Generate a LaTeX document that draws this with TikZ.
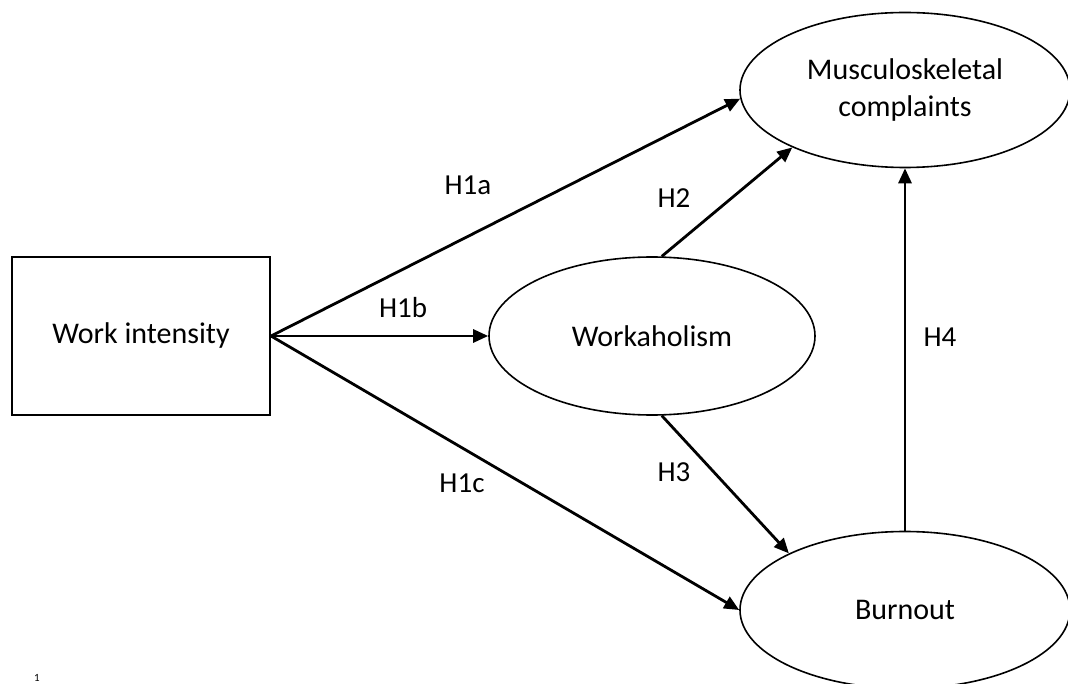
\documentclass[tikz,border=0pt]{standalone}
\usepackage{fontspec}
\setmainfont{Carlito}
\usetikzlibrary{shapes.geometric,arrows.meta}
\begin{document}
\begin{tikzpicture}[x=1pt,y=-1pt,
  lat/.style={draw, ellipse, line width=1.6pt, minimum width=330pt, minimum height=155pt,
    inner sep=0pt, align=center, font=\fontsize{30}{37}\selectfont},
  obs/.style={draw, rectangle, line width=2pt, minimum width=258pt, minimum height=158pt,
    inner sep=0pt, font=\fontsize{30}{37}\selectfont},
  hpath/.style={line width=2.8pt, -{Triangle[length=15pt,width=13pt]}},
  lbl/.style={font=\fontsize{29}{34}\selectfont, inner sep=0pt}]
\useasboundingbox (0,0) rectangle (1068,684);
\clip (0,0) rectangle (1068,684);
\node[obs] (wi) at (141,336) {Work intensity};
\node[lat] (mc) at (905,90) {Musculoskeletal\\complaints};
\node[lat, minimum width=326pt, minimum height=158pt] (wk) at (652,336) {Workaholism};
\node[lat, minimum height=157pt] (bo) at (905,610) {Burnout};
\draw[hpath] (wi.east) -- (mc.183);
\draw[hpath] (wi.east) -- (wk.west);
\draw[hpath] (wi.east) -- (bo.west);
\draw[hpath] (wk.83) -- (mc.207);
\draw[hpath] (wk.277) -- (bo.154);
\draw[hpath] (bo.north) -- (mc.south);
\node[lbl] (l1a) at (468,185) {H1a};
\node[lbl] (l1b) at (403,308) {H1b};
\node[lbl] (l1c) at (462,483) {H1c};
\node[lbl] (l2) at (674,198) {H2};
\node[lbl] (l3) at (674,472) {H3};
\node[lbl] (l4) at (940,337) {H4};
\node[font=\fontsize{11}{12}\selectfont, anchor=south, inner sep=0pt] (fn) at (37,682) {1};
\end{tikzpicture}
\end{document}
